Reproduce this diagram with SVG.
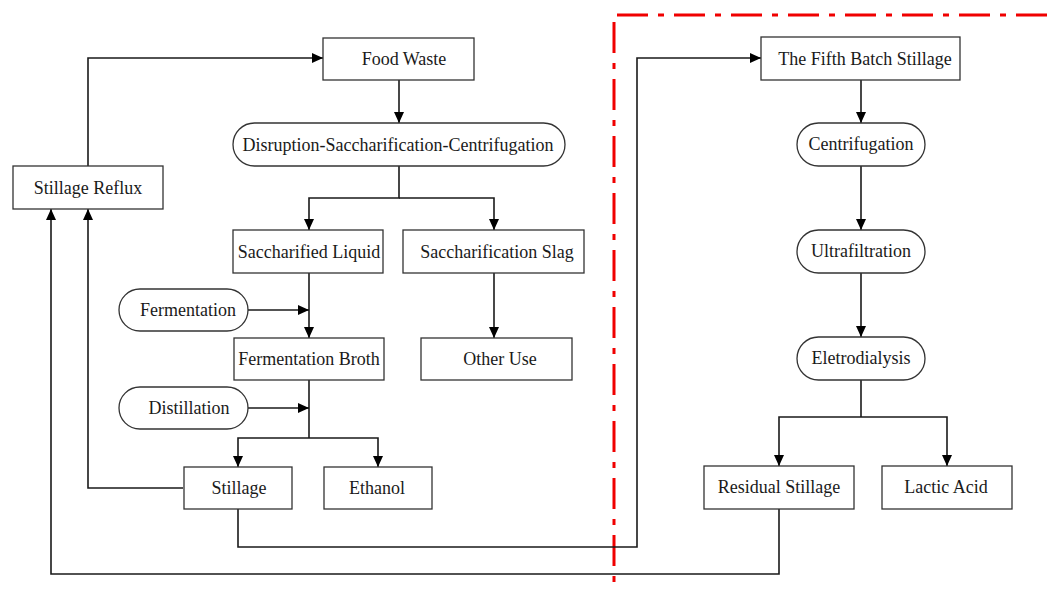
<svg xmlns="http://www.w3.org/2000/svg" width="1054" height="591" viewBox="0 0 1054 591">
<style>
.box{fill:#fff;stroke:#333;stroke-width:1.3}
.t{font-family:"Liberation Serif","Times New Roman",serif;font-size:18px;fill:#1a1a1a;text-anchor:middle;dominant-baseline:central}
.c{fill:none;stroke:#1a1a1a;stroke-width:1.6;marker-end:url(#ah)}
.n{fill:none;stroke:#1a1a1a;stroke-width:1.6}
.red{fill:none;stroke:#f00000;stroke-width:3;stroke-dasharray:31 10 6 10}
</style>
<defs>
<marker id="ah" markerUnits="userSpaceOnUse" markerWidth="11" markerHeight="10" refX="11" refY="5" orient="auto">
<path d="M0,0 L11,5 L0,10 z" fill="#000"/>
</marker>
</defs>
<rect width="1054" height="591" fill="#fff"/>
<g id="boundary">
<line class="red" x1="617" y1="15" x2="1054" y2="15"/>
<line class="red" x1="614" y1="22" x2="614" y2="591"/>
</g>
<g id="connectors">
<path class="c" d="M399,80 V123"/>
<path class="c" d="M399,166 V198 H309 V230"/>
<path class="c" d="M399,198 H494 V230"/>
<path class="c" d="M494,273 V338"/>
<path class="c" d="M309,273 V338"/>
<path class="c" d="M248,310 H309"/>
<path class="n" d="M309,380 V438"/>
<path class="c" d="M309,438 H238 V467"/>
<path class="c" d="M309,438 H378 V467"/>
<path class="c" d="M248,408 H309"/>
<path class="c" d="M183,488 H88 V209"/>
<path class="c" d="M88,166 V58 H323"/>
<path class="c" d="M238,509 V547 H637 V58 H761"/>
<path class="c" d="M779,509 V574 H51 V209"/>
<path class="c" d="M861,80 V123"/>
<path class="c" d="M861,166 V230"/>
<path class="c" d="M861,273 V337"/>
<path class="n" d="M861,380 V417"/>
<path class="c" d="M861,417 H779 V466"/>
<path class="c" d="M861,417 H947 V466"/>
</g>
<g id="food-waste"><rect class="box" x="323" y="38" width="151" height="42"/><text class="t" x="404" y="59">Food Waste</text></g>
<g id="disruption"><rect class="box" x="233" y="123" width="332" height="43" rx="21.5"/><text class="t" x="398" y="145">Disruption-Saccharification-Centrifugation</text></g>
<g id="stillage-reflux"><rect class="box" x="13" y="166" width="150" height="43"/><text class="t" x="88" y="188">Stillage Reflux</text></g>
<g id="saccharified-liquid"><rect class="box" x="233" y="230" width="150" height="43"/><text class="t" x="309" y="252">Saccharified Liquid</text></g>
<g id="saccharification-slag"><rect class="box" x="403" y="230" width="181" height="43"/><text class="t" x="497" y="252">Saccharification Slag</text></g>
<g id="fermentation"><rect class="box" x="119" y="289" width="129" height="42" rx="21"/><text class="t" x="188" y="310">Fermentation</text></g>
<g id="fermentation-broth"><rect class="box" x="234" y="338" width="150" height="42"/><text class="t" x="309" y="359">Fermentation Broth</text></g>
<g id="other-use"><rect class="box" x="421" y="338" width="151" height="42"/><text class="t" x="500" y="359">Other Use</text></g>
<g id="distillation"><rect class="box" x="119" y="387" width="129" height="42" rx="21"/><text class="t" x="189" y="408">Distillation</text></g>
<g id="stillage"><rect class="box" x="184" y="467" width="108" height="42"/><text class="t" x="239" y="488">Stillage</text></g>
<g id="ethanol"><rect class="box" x="324" y="467" width="108" height="42"/><text class="t" x="377" y="488">Ethanol</text></g>
<g id="fifth-batch"><rect class="box" x="761" y="37" width="199" height="43"/><text class="t" x="865" y="59">The Fifth Batch Stillage</text></g>
<g id="centrifugation"><rect class="box" x="797" y="123" width="128" height="43" rx="21.5"/><text class="t" x="861" y="144">Centrifugation</text></g>
<g id="ultrafiltration"><rect class="box" x="797" y="230" width="128" height="43" rx="21.5"/><text class="t" x="861" y="251">Ultrafiltration</text></g>
<g id="eletrodialysis"><rect class="box" x="797" y="337" width="128" height="43" rx="21.5"/><text class="t" x="861" y="358">Eletrodialysis</text></g>
<g id="residual-stillage"><rect class="box" x="704" y="466" width="150" height="43"/><text class="t" x="779" y="487">Residual Stillage</text></g>
<g id="lactic-acid"><rect class="box" x="882" y="466" width="130" height="43"/><text class="t" x="946" y="487">Lactic Acid</text></g>
</svg>
